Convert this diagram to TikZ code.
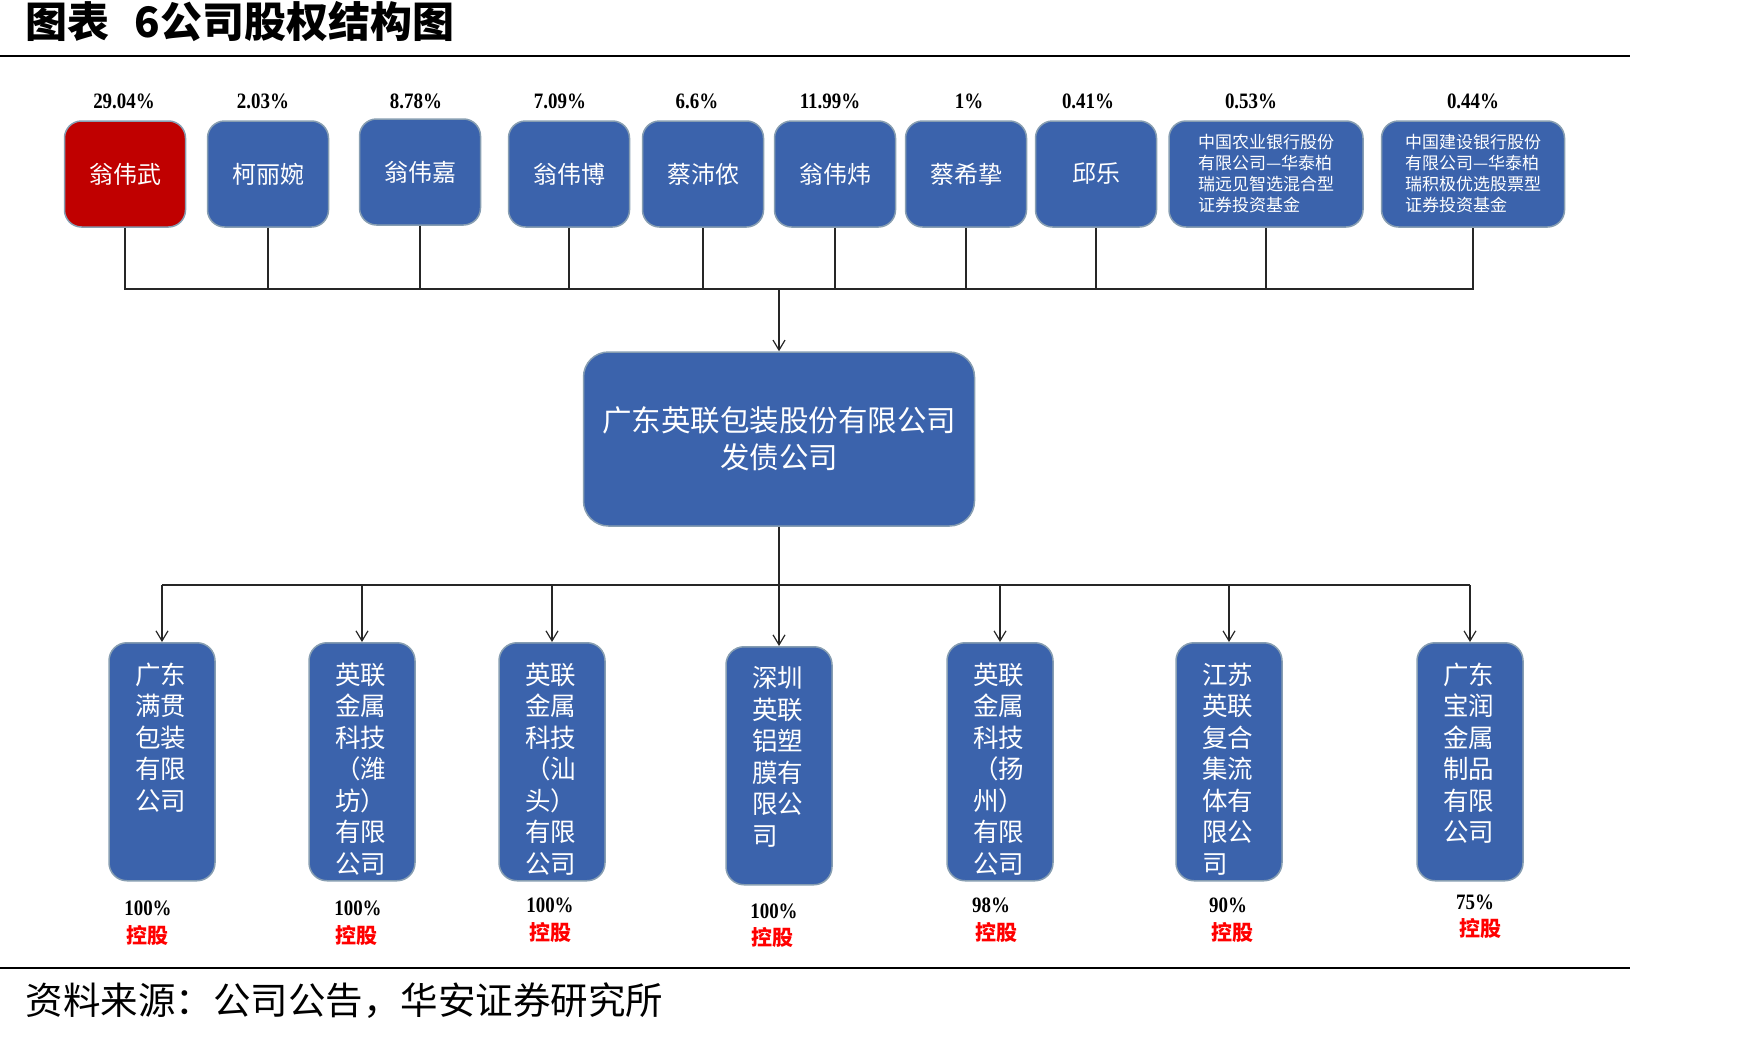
\documentclass[tikz,border=0pt]{standalone}
\usepackage{fontspec}
\setmainfont{Liberation Serif}
\newfontfamily\cjk{Noto Sans CJK SC}
\newfontfamily\pctfont[FakeStretch=0.86]{Liberation Serif}
\usetikzlibrary{arrows.meta}
\definecolor{boxblue}{RGB}{59,99,172}
\definecolor{boxred}{RGB}{192,0,0}
\definecolor{boxedge}{RGB}{135,158,178}
\newcommand{\subtext}[1]{\parbox[c][238pt][t]{54pt}{\vspace*{20pt}#1}}

\begin{document}
\begin{tikzpicture}[x=1pt,y=-1pt,
	holder/.style={draw=boxedge, line width=1.5pt, fill=boxblue, rounded corners=17pt, minimum width=121pt, minimum height=106pt, text=white, font=\cjk\fontsize{24pt}{28pt}\selectfont},
	fund/.style={holder, align=left, font=\cjk\fontsize{17pt}{21pt}\selectfont},
	parent/.style={holder, minimum width=391pt, minimum height=174pt, rounded corners=25pt, align=center, font=\cjk\fontsize{29.5pt}{37pt}\selectfont},
	sub/.style={holder, minimum width=106pt, minimum height=238pt, inner sep=0pt, rounded corners=18pt, font=\cjk\fontsize{25.5pt}{31.5pt}\selectfont},
	pct/.style={font=\pctfont\bfseries\fontsize{22pt}{22pt}\selectfont},
	ctrl/.style={text=red, font=\cjk\bfseries\fontsize{21pt}{21pt}\selectfont},
	conn/.style={draw=black!85, line width=1.3pt},
	arr/.style={conn, -{Straight Barb[length=10pt, width=12pt, line width=1.2pt]}}]
\useasboundingbox (0,0) rectangle (1763,1036);

\node [anchor=west, font=\cjk\bfseries\fontsize{42pt}{42pt}\selectfont] (title) at (22,22) {图表\hspace{0.6em}6公司股权结构图};
\draw [line width=2pt] (0,56) -- (1630,56);
\draw [line width=2pt] (0,968) -- (1630,968);
\node [anchor=west, font=\cjk\fontsize{37.5pt}{37.5pt}\selectfont] (src) at (22,1001) {资料来源：公司公告，华安证券研究所};

\node [holder, fill=boxred] (p1) at (125,174) {翁伟武};
\node [holder] (p2) at (268,174) {柯丽婉};
\node [holder] (p3) at (420,172) {翁伟嘉};
\node [holder] (p4) at (569,174) {翁伟博};
\node [holder] (p5) at (703,174) {蔡沛侬};
\node [holder] (p6) at (835,174) {翁伟炜};
\node [holder] (p7) at (966,174) {蔡希挚};
\node [holder] (p8) at (1096,174) {邱乐};
\node [fund, minimum width=194pt] (p9) at (1266,174) {中国农业银行股份\\有限公司—华泰柏\\瑞远见智选混合型\\证券投资基金};
\node [fund, minimum width=183pt] (p10) at (1473,174) {中国建设银行股份\\有限公司—华泰柏\\瑞积极优选股票型\\证券投资基金};

\node [pct] (q1) at (124,101) {29.04\%};
\node [pct] (q2) at (263,101) {2.03\%};
\node [pct] (q3) at (416,101) {8.78\%};
\node [pct] (q4) at (560,101) {7.09\%};
\node [pct] (q5) at (697,101) {6.6\%};
\node [pct] (q6) at (830,101) {11.99\%};
\node [pct] (q7) at (969,101) {1\%};
\node [pct] (q8) at (1088,101) {0.41\%};
\node [pct] (q9) at (1251,101) {0.53\%};
\node [pct] (q10) at (1473,101) {0.44\%};

\node [parent] (m) at (779,439) {广东英联包装股份有限公司\\发债公司};

\node [sub, anchor=north] (s1) at (162,642) {\subtext{广东\\满贯\\包装\\有限\\公司}};
\node [sub, anchor=north] (s2) at (362,642) {\subtext{英联\\金属\\科技\\（潍\\坊）\\有限\\公司}};
\node [sub, anchor=north] (s3) at (552,642) {\subtext{英联\\金属\\科技\\（汕\\头）\\有限\\公司}};
\node [sub, anchor=north] (s4) at (779,646) {\subtext{深圳\\英联\\铝塑\\膜有\\限公\\司}};
\node [sub, anchor=north] (s5) at (1000,642) {\subtext{英联\\金属\\科技\\（扬\\州）\\有限\\公司}};
\node [sub, anchor=north] (s6) at (1229,642) {\subtext{江苏\\英联\\复合\\集流\\体有\\限公\\司}};
\node [sub, anchor=north] (s7) at (1470,642) {\subtext{广东\\宝润\\金属\\制品\\有限\\公司}};

\node [pct] (h1) at (148,908) {100\%};
\node [ctrl] (k1) at (147,935) {控股};
\node [pct] (h2) at (358,908) {100\%};
\node [ctrl] (k2) at (356,935) {控股};
\node [pct] (h3) at (550,905) {100\%};
\node [ctrl] (k3) at (550,932) {控股};
\node [pct] (h4) at (774,911) {100\%};
\node [ctrl] (k4) at (772,937) {控股};
\node [pct] (h5) at (991,905) {98\%};
\node [ctrl] (k5) at (996,932) {控股};
\node [pct] (h6) at (1228,905) {90\%};
\node [ctrl] (k6) at (1232,932) {控股};
\node [pct] (h7) at (1475,902) {75\%};
\node [ctrl] (k7) at (1480,928) {控股};

\coordinate (tb) at (779,289);
\draw [conn] (p1.south) -- (p1.south |- tb) -- (p10.south |- tb) -- (p10.south);
\draw [conn] (p2.south) -- (p2.south |- tb);
\draw [conn] (p3.south) -- (p3.south |- tb);
\draw [conn] (p4.south) -- (p4.south |- tb);
\draw [conn] (p5.south) -- (p5.south |- tb);
\draw [conn] (p6.south) -- (p6.south |- tb);
\draw [conn] (p7.south) -- (p7.south |- tb);
\draw [conn] (p8.south) -- (p8.south |- tb);
\draw [conn] (p9.south) -- (p9.south |- tb);
\draw [arr] (tb) -- (m.north);

\coordinate (bb) at (779,585);
\draw [conn] (m.south) -- (bb);
\draw [conn] (s1.north |- bb) -- (s7.north |- bb);
\draw [arr] (s1.north |- bb) -- (s1.north);
\draw [arr] (s2.north |- bb) -- (s2.north);
\draw [arr] (s3.north |- bb) -- (s3.north);
\draw [arr] (s4.north |- bb) -- (s4.north);
\draw [arr] (s5.north |- bb) -- (s5.north);
\draw [arr] (s6.north |- bb) -- (s6.north);
\draw [arr] (s7.north |- bb) -- (s7.north);
\end{tikzpicture}
\end{document}
